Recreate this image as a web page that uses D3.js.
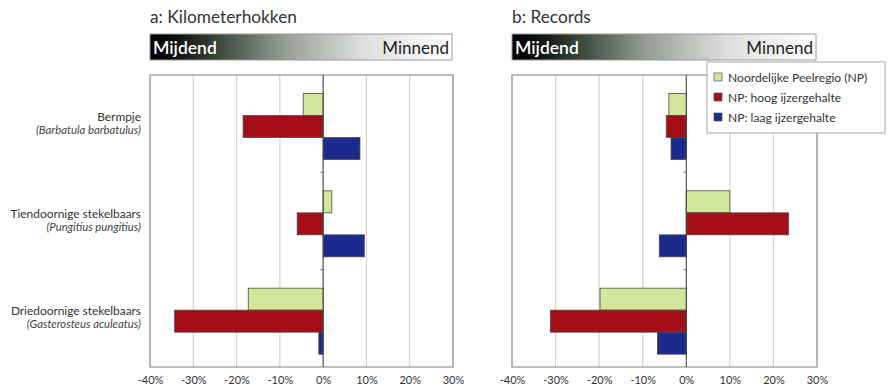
<!DOCTYPE html>
<html>
<head>
<meta charset="utf-8">
<script src="https://cdn.jsdelivr.net/npm/d3@7/dist/d3.min.js"></script>
<style>
  body { margin: 0; background: #fff; }
  svg { display: block; font-family: Lato, "Open Sans", sans-serif; }
</style>
</head>
<body>
<svg id="chart" width="890" height="387"></svg>
<script>
// Species (Dutch name + scientific name)
const species = ["Bermpje", "Tiendoornige stekelbaars", "Driedoornige stekelbaars"];
const scientific = ["(Barbatula barbatulus)", "(Pungitius pungitius)", "(Gasterosteus aculeatus)"];

// Series
const seriesNames = ["Noordelijke Peelregio (NP)", "NP: hoog ijzergehalte", "NP: laag ijzergehalte"];
const seriesColors = ["#d3e79b", "#a50d17", "#1b2a8c"];

// Panel a: Kilometerhokken (% per species, per series)
const kmNP    = [-4.6,  2.0, -17.3];
const kmHoog  = [-18.5, -6.0, -34.3];
const kmLaag  = [ 8.5,  9.5, -1.0];

// Panel b: Records
const recNP   = [-4.0, 10.0, -19.8];
const recHoog = [-4.6, 23.5, -31.2];
const recLaag = [-3.5, -6.2, -6.6];

const tickValues = [-40, -30, -20, -10, 0, 10, 20, 30];

const panels = [
  { title: "a: Kilometerhokken", data: [kmNP, kmHoog, kmLaag], x0: 150, x1: 453 },
  { title: "b: Records",         data: [recNP, recHoog, recLaag], x0: 512, x1: 817 }
];

const svg = d3.select("#chart");
const plotTop = 75, plotBottom = 367;

const y = d3.scaleBand().domain(species).range([plotTop, plotBottom]);
// bars sit slightly below the middle of each category band
const inner = d3.scaleBand().domain(d3.range(seriesNames.length))
  .range([18.5, 18.5 + 66]);

const defs = svg.append("defs");
const grad = defs.append("linearGradient").attr("id", "scale-grad");
[["0%", "#000000"], ["8%", "#0a100a"], ["22%", "#38463a"], ["45%", "#97a097"], ["70%", "#dcdedc"], ["100%", "#ffffff"]]
  .forEach(([o, c]) => grad.append("stop").attr("offset", o).attr("stop-color", c));

panels.forEach((p, pi) => {
  const x = d3.scaleLinear().domain([-40, 30]).range([p.x0, p.x1]);
  const g = svg.append("g");

  // Title
  g.append("text").attr("x", p.x0).attr("y", 23)
    .attr("font-size", 17.3).attr("fill", "#333").text(p.title);

  // Gradient header
  g.append("rect").attr("x", p.x0).attr("y", 34).attr("width", p.x1 - p.x0 - 1).attr("height", 26)
    .attr("fill", "url(#scale-grad)").attr("stroke", "#9a9a9a").attr("stroke-width", 1);
  g.append("text").attr("x", p.x0 + 3).attr("y", 53.5).attr("font-size", 17.5)
    .attr("font-weight", 600).attr("fill", "#fff").text("Mijdend");
  g.append("text").attr("x", p.x1 - 4).attr("y", 53.5).attr("font-size", 17)
    .attr("text-anchor", "end").attr("fill", "#222").text("Minnend");

  // Gridlines
  g.selectAll(".grid").data(tickValues).join("line")
    .attr("x1", d => x(d)).attr("x2", d => x(d))
    .attr("y1", plotTop).attr("y2", plotBottom)
    .attr("stroke", "#d4d4d4").attr("stroke-width", 1.2);

  // Plot frame
  g.append("rect").attr("x", p.x0).attr("y", plotTop)
    .attr("width", p.x1 - p.x0).attr("height", plotBottom - plotTop)
    .attr("fill", "none").attr("stroke", "#9c9c9c").attr("stroke-width", 1.3);

  // Bars
  p.data.forEach((vals, si) => {
    g.selectAll(".bar" + si).data(vals).join("rect")
      .attr("x", d => x(Math.min(0, d)))
      .attr("width", d => Math.abs(x(d) - x(0)))
      .attr("y", (d, i) => y(species[i]) + inner(si))
      .attr("height", inner.bandwidth())
      .attr("fill", seriesColors[si])
      .attr("stroke", "#4a4a4a").attr("stroke-width", 0.8);
  });

  // Zero line with category ticks
  g.append("line").attr("x1", x(0)).attr("x2", x(0)).attr("y1", plotTop).attr("y2", plotBottom)
    .attr("stroke", "#444").attr("stroke-width", 1);
  g.selectAll(".ctick").data(species.slice(1)).join("line")
    .attr("x1", x(0) - 3).attr("x2", x(0)).attr("y1", d => y(d)).attr("y2", d => y(d))
    .attr("stroke", "#666").attr("stroke-width", 0.8);

  // X axis labels
  const axis = d3.axisBottom(x).tickValues(tickValues).tickSize(0).tickPadding(0)
    .tickFormat(d => d + "%");
  const ax = g.append("g").attr("transform", `translate(0,${plotBottom + 9})`).call(axis);
  ax.select(".domain").remove();
  ax.selectAll("text").attr("font-size", 11).attr("fill", "#333")
    .attr("font-family", "Lato, 'Open Sans', sans-serif");
});

// Category labels
const labels = svg.append("g").attr("text-anchor", "end").attr("fill", "#333");
species.forEach((s, i) => {
  const cy = y(s) + y.bandwidth() / 2;
  labels.append("text").attr("x", 141).attr("y", cy - 3).attr("font-size", 11.9).attr("fill", "#333").text(s);
  labels.append("text").attr("x", 141).attr("y", cy + 10).attr("font-size", 11.3)
    .attr("font-style", "italic").attr("fill", "#444").text(scientific[i]);
});

// Legend
const lg = svg.append("g").attr("transform", "translate(707,62)");
lg.append("rect").attr("width", 178).attr("height", 71).attr("fill", "#fff")
  .attr("stroke", "#a8a8a8").attr("stroke-width", 1);
seriesNames.forEach((n, i) => {
  const ly = 16 + i * 20;
  lg.append("rect").attr("x", 7).attr("y", ly - 5).attr("width", 8).attr("height", 8)
    .attr("fill", seriesColors[i]).attr("stroke", "#555").attr("stroke-width", 0.7);
  lg.append("text").attr("x", 21).attr("y", ly + 3.5).attr("font-size", 12.1).attr("fill", "#333").text(n);
});
</script>
</body>
</html>
